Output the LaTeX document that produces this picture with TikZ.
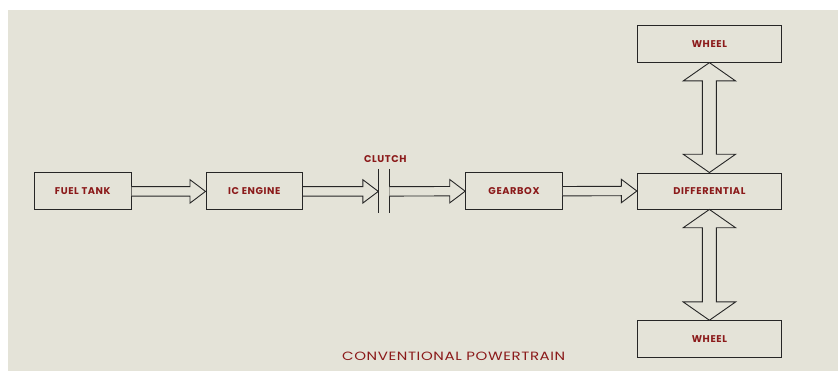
\documentclass[tikz,border=0pt]{standalone}
\usepackage{fontspec}
\setmainfont{Poppins}
\newfontfamily\lblfont[LetterSpace=6]{Poppins}
\newfontfamily\capfont[FakeStretch=1.25, LetterSpace=5]{Poppins}
\usetikzlibrary{calc}
\definecolor{bg}{HTML}{E4E3D8}
\definecolor{lbl}{HTML}{8B1A1A}
\newcommand\hblock[2]{\draw[blk] ($(#1.east)+(0,-4.7)$) -- ($(#2.west)+(-15.5,-4.7)$) -- ($(#2.west)+(-15.5,-11.7)$) -- (#2.west) -- ($(#2.west)+(-15.5,11.7)$) -- ($(#2.west)+(-15.5,4.7)$) -- ($(#1.east)+(0,4.7)$);}
\newcommand\vblock[2]{\draw[blk] (#1.south) -- ($(#1.south)+(26.2,18.3)$) -- ($(#1.south)+(7,18.3)$) -- ($(#2.north)+(7,-18.3)$) -- ($(#2.north)+(26.2,-18.3)$) -- (#2.north) -- ($(#2.north)+(-26.2,-18.3)$) -- ($(#2.north)+(-7,-18.3)$) -- ($(#1.south)+(-7,18.3)$) -- ($(#1.south)+(-26.2,18.3)$) -- cycle;}
\begin{document}
\begin{tikzpicture}[x=1pt,y=-1pt,
  lbltext/.style={font=\lblfont\bfseries\fontsize{9.8}{10}\selectfont, text=lbl},
  box/.style={draw=black!85, line width=0.9pt, fill=bg, minimum width=96.7pt, minimum height=37pt, inner sep=0pt, lbltext},
  widebox/.style={box, minimum width=144.2pt},
  blk/.style={draw=black!85, line width=0.9pt, fill=bg, line join=miter},
  plate/.style={draw=black!85, line width=1pt}]
\useasboundingbox (0,0) rectangle (838,371);
\fill[white] (0,0) rectangle (838,371);
\fill[bg] (8,10) rectangle (838,371);
\node[box] (fuel) at (82.7,191.4) {FUEL TANK};
\node[box] (ice) at (254.3,191.4) {IC ENGINE};
\node[box] (gear) at (514,191.2) {GEARBOX};
\node[widebox, minimum height=36pt] (diff) at (709.4,191) {DIFFERENTIAL};
\node[widebox] (w1) at (709.4,43.7) {WHEEL};
\node[widebox, minimum height=36.6pt] (w2) at (709.4,339) {WHEEL};
\coordinate (c1) at (378.3,191.4);
\coordinate (c2) at (389.3,191.4);
\draw[plate] ($(c1)+(0,-22.4)$) -- ($(c1)+(0,21.3)$);
\draw[plate] ($(c2)+(0,-22.4)$) -- ($(c2)+(0,21.3)$);
\node[lbltext] (clab) at (385.3,159.3) {CLUTCH};
\hblock{fuel}{ice}
\hblock{ice}{c1}
\hblock{c2}{gear}
\hblock{gear}{diff}
\vblock{w1}{diff}
\vblock{diff}{w2}
\node[font=\capfont\fontsize{12}{12}\selectfont, text=lbl] (cap) at (453.7,356.7) {CONVENTIONAL POWERTRAIN};
\end{tikzpicture}
\end{document}
